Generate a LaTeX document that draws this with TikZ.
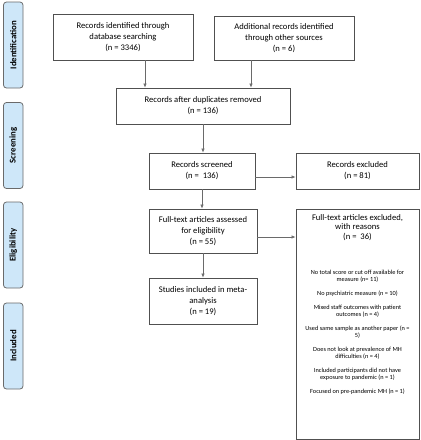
\documentclass[tikz,border=0pt]{standalone}
\usepackage{fontspec}
\setmainfont{Carlito}
\usetikzlibrary{arrows.meta}
\definecolor{phasecol}{RGB}{206,231,249}
\definecolor{edgecol}{RGB}{80,80,80}

\begin{document}
\begin{tikzpicture}[x=1pt, y=-1pt,
  box/.style={draw=edgecol, line width=0.9pt, align=center, inner sep=1pt,
    font=\fontsize{8.6}{10.8}\selectfont},
  phase/.style={draw=edgecol!85, fill=phasecol, rounded corners=3pt, line width=0.8pt,
    rotate=90, minimum width=86pt, minimum height=19.5pt, inner sep=0pt,
    font=\bfseries\fontsize{8.8}{10}\selectfont},
  arr/.style={-{Latex[length=4pt,width=3.5pt]}, draw=edgecol!85, line width=0.6pt}]

  \newcommand\Gap{7.2pt}

  \useasboundingbox (0,0) rectangle (421,440);

  %% phases on the left
  \node[phase] (idph) at (13.25, 45) {Identification};
  \node[phase] (scph) at (13.25, 145.5) {Screening};
  \node[phase] (elph) at (13.25, 245) {Eligibility};
  \node[phase] (inph) at (13.25, 346) {Included};

  %% boxes
  \node[box, minimum width=140pt, minimum height=46pt] (dbrec) at (123, 37)
    {Records identified through\\ database searching\\ (n = 3346)};
  \node[box, minimum width=140pt, minimum height=44pt] (othrec) at (284, 38)
    {Additional records identified\\ through other sources\\ (n = 6)};
  \node[box, minimum width=174pt, minimum height=36pt] (dups) at (203, 106)
    {Records after duplicates removed\\ (n = 136)};
  \node[box, minimum width=106pt, minimum height=36pt] (screened) at (202, 171)
    {Records screened\\ (n =~ 136)};
  \node[box, minimum width=123pt, minimum height=36pt] (excl) at (357.5, 171)
    {Records excluded\\ (n = 81)};
  \node[box, minimum width=108pt, minimum height=44pt] (fulltext) at (203, 231)
    {Full-text articles assessed\\ for eligibility\\ (n = 55)};
  \node[box, minimum width=108pt, minimum height=46pt] (studies) at (203, 301)
    {Studies included in meta-\\ analysis\\ (n = 19)};
  \node[box, minimum width=123pt, minimum height=230pt] (ftexcl) at (357.5, 324) {};
  \node[anchor=north, align=center, inner sep=0pt, font=\fontsize{8.6}{9.8}\selectfont]
    (ftttl) at (357.5, 214) {Full-text articles excluded,\\ with reasons\\ (n =~ 36)};
  \node[anchor=north, align=center, inner sep=0pt, font=\fontsize{6.3}{6.9}\selectfont]
    (reasons) at (357.5, 270)
    {No total score or cut off available for\\ measure (n= 11)\\[\Gap]
     No psychiatric measure (n = 10)\\[\Gap]
     Mixed staff outcomes with patient\\ outcomes (n = 4)\\[\Gap]
     Used same sample as another paper (n =\\ 5)\\[\Gap]
     Does not look at prevalence of MH\\ difficulties (n = 4)\\[\Gap]
     Included participants did not have\\ exposure to pandemic (n = 1)\\[\Gap]
     Focused on pre-pandemic MH (n = 1)};

  %% connectors
  \draw[arr] ([xshift=22pt]dbrec.south) -- ([xshift=22pt]dbrec.south |- dups.north);
  \draw[arr] ([xshift=-33pt]othrec.south) -- ([xshift=-33pt]othrec.south |- dups.north);
  \draw[arr] (dups.south) -- (dups.south |- screened.north);
  \draw[arr] ([yshift=-6pt]screened.east) -- ([yshift=-6pt]screened.east -| excl.west);
  \draw[arr] (screened.south) -- (screened.south |- fulltext.north);
  \draw[arr] ([yshift=-6pt]fulltext.east) -- ([yshift=-6pt]fulltext.east -| ftexcl.west);
  \draw[arr] (fulltext.south) -- (studies.north);

\end{tikzpicture}
\end{document}
